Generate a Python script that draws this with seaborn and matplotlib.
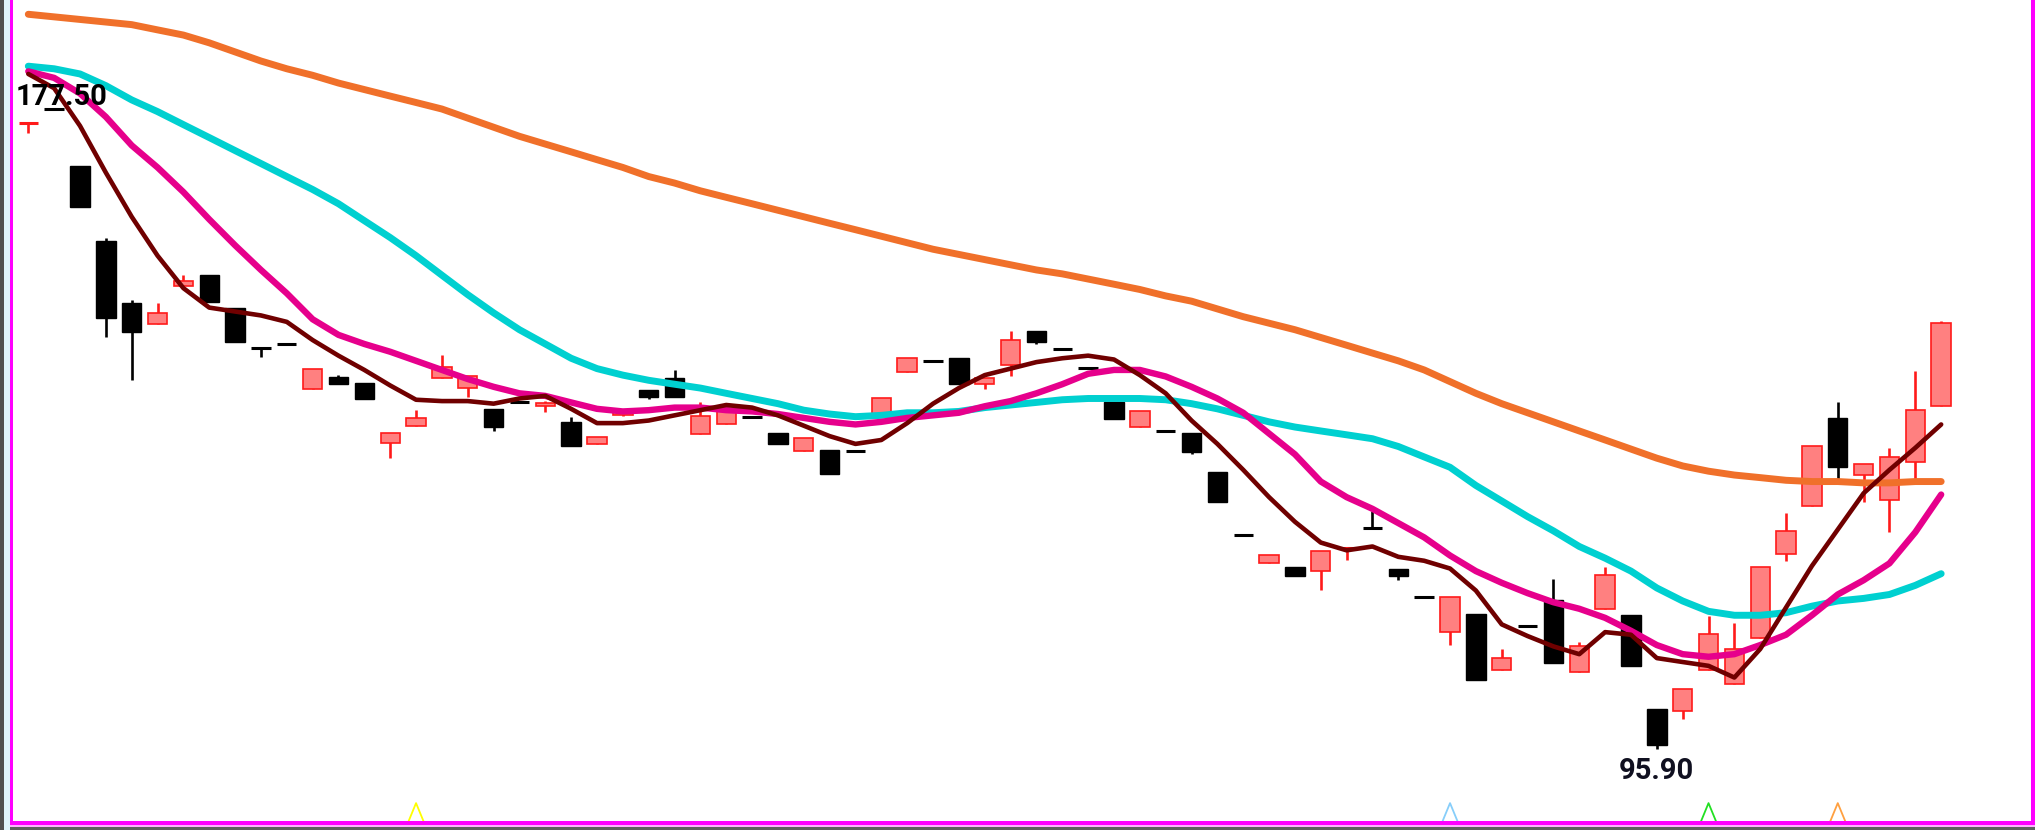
import numpy as np
import pandas as pd
import matplotlib
matplotlib.use("Agg")
import matplotlib.pyplot as plt
from matplotlib.patches import Rectangle
import seaborn as sns

sns.set_style("white")
plt.rcParams['font.family'] = ['Roboto', 'DejaVu Sans']

# candle data (price units), one entry per trading day
opens = [175.6, 177.5, 170.2, 160.7, 152.8, 150.1, 154.9, 156.3, 152.1, 147.0,
         147.55, 141.8, 143.3, 142.6, 134.9, 137.1, 143.2, 141.9, 139.2, 140.2,
         139.6, 137.6, 134.8, 138.5, 141.7, 143.2, 136.1, 137.4, 138.2, 136.2,
         133.9, 134.0, 133.95, 138.5, 144.0, 145.4, 145.8, 142.5, 144.9, 149.2,
         146.9, 144.45, 140.1, 137.0, 136.5, 136.2, 131.2, 123.15, 119.6, 119.15,
         118.6, 121.4, 124.1, 118.8, 115.3, 110.8, 113.1, 106.0, 111.6, 114.9,
         105.7, 113.8, 113.0, 101.0, 100.7, 106.0, 104.2, 110.0, 120.7, 126.9,
         138.1, 130.8, 127.7, 132.5, 139.6]
highs = [175.7, 177.5, 170.2, 161.0, 153.1, 152.8, 156.3, 156.3, 152.1, 147.0,
         147.55, 144.4, 143.6, 142.6, 136.2, 139.1, 146.1, 143.5, 139.2, 140.2,
         140.3, 138.2, 135.7, 139.2, 141.7, 144.2, 140.1, 139.1, 138.2, 136.2,
         135.6, 134.0, 133.95, 140.7, 145.7, 145.4, 145.8, 143.2, 149.2, 149.2,
         146.9, 144.45, 140.1, 139.0, 136.5, 136.2, 131.2, 123.15, 120.6, 119.15,
         121.1, 121.5, 126.2, 118.8, 115.3, 115.3, 113.1, 108.7, 111.6, 117.6,
         109.5, 119.1, 113.0, 101.0, 103.5, 112.8, 112.0, 119.1, 126.0, 134.5,
         140.1, 132.2, 134.3, 144.1, 150.5]
lows = [174.5, 177.45, 165.0, 148.4, 143.0, 150.1, 154.9, 152.9, 147.8, 145.9,
        147.5, 141.8, 142.4, 140.5, 133.0, 137.1, 143.2, 140.8, 136.4, 140.15,
        138.9, 134.5, 134.8, 138.3, 140.5, 140.8, 136.1, 137.4, 138.15, 134.8,
        133.9, 131.0, 133.9, 138.5, 144.0, 145.35, 142.4, 141.8, 143.4, 147.5,
        146.85, 144.4, 138.0, 137.0, 136.45, 133.5, 127.4, 123.1, 119.6, 118.0,
        116.2, 120.0, 124.05, 117.4, 115.25, 109.1, 104.7, 106.0, 111.55, 106.8,
        105.7, 113.8, 106.5, 95.9, 99.7, 106.0, 104.2, 110.0, 119.9, 126.9,
        130.2, 127.4, 123.6, 130.2, 139.6]
closes = [175.7, 177.45, 165.0, 150.9, 149.1, 151.5, 155.6, 152.9, 147.8, 146.95,
          147.5, 144.4, 142.4, 140.5, 136.2, 138.1, 144.6, 143.5, 137.0, 140.15,
          140.0, 134.5, 135.7, 139.0, 140.8, 140.8, 138.3, 139.1, 138.15, 134.8,
          135.6, 131.0, 133.9, 140.7, 145.7, 145.35, 142.4, 143.2, 148.0, 147.8,
          146.85, 144.4, 138.0, 139.0, 136.45, 133.8, 127.4, 123.1, 120.6, 118.0,
          121.1, 121.5, 124.05, 118.0, 115.25, 115.3, 104.7, 107.5, 111.55, 106.8,
          109.0, 118.1, 106.5, 96.4, 103.5, 110.5, 108.7, 119.1, 123.7, 134.5,
          131.8, 132.2, 133.1, 139.1, 150.2]

# moving averages
ma_short = [181.97, 180.15, 175.35, 169.39, 163.76, 158.80, 154.66, 152.18, 151.68, 151.18,
            150.36, 148.04, 146.05, 144.23, 142.25, 140.43, 140.26, 140.26, 139.93, 140.59,
            140.92, 139.27, 137.45, 137.45, 137.78, 138.44, 139.10, 139.76, 139.43, 138.44,
            137.12, 135.79, 134.80, 135.30, 137.45, 139.93, 141.92, 143.57, 144.40, 145.23,
            145.72, 146.05, 145.56, 143.57, 141.25, 137.78, 134.80, 131.49, 128.01, 124.87,
            122.22, 121.23, 121.72, 120.40, 119.90, 118.91, 116.10, 111.79, 110.30, 108.98,
            107.99, 110.80, 110.47, 107.49, 106.99, 106.50, 105.01, 108.65, 113.95, 119.24,
            123.88, 128.51, 131.49, 134.30, 137.28]
ma_mid = [182.30, 181.47, 179.48, 176.50, 172.86, 170.05, 166.91, 163.43, 160.12, 156.98,
          154.00, 150.69, 148.70, 147.54, 146.55, 145.39, 144.23, 143.07, 142.08, 141.25,
          140.92, 140.09, 139.27, 138.94, 139.10, 139.43, 139.43, 139.10, 138.94, 138.61,
          138.11, 137.61, 137.28, 137.61, 138.11, 138.44, 138.77, 139.60, 140.26, 141.25,
          142.41, 143.74, 144.23, 144.23, 143.40, 142.08, 140.59, 138.77, 136.12, 133.47,
          130.00, 128.01, 126.52, 124.70, 122.88, 120.57, 118.58, 117.09, 115.77, 114.61,
          113.78, 112.62, 110.97, 109.15, 107.99, 107.66, 107.99, 109.15, 110.47, 112.95,
          115.60, 117.42, 119.57, 123.54, 128.34]
ma_long = [182.96, 182.63, 181.97, 180.48, 178.66, 177.17, 175.51, 173.86, 172.20, 170.55,
           168.89, 167.24, 165.42, 163.26, 161.11, 158.80, 156.31, 153.83, 151.51, 149.36,
           147.54, 145.72, 144.40, 143.57, 142.91, 142.41, 141.92, 141.25, 140.59, 139.93,
           139.10, 138.61, 138.27, 138.44, 138.77, 138.77, 138.94, 139.43, 139.76, 140.09,
           140.43, 140.59, 140.59, 140.59, 140.43, 139.93, 139.27, 138.44, 137.61, 136.95,
           136.45, 135.96, 135.46, 134.47, 133.14, 131.82, 129.50, 127.52, 125.53, 123.71,
           121.72, 120.23, 118.58, 116.43, 114.77, 113.45, 112.95, 112.95, 113.28, 114.11,
           114.77, 115.10, 115.60, 116.76, 118.25]
ma_year = [189.58, 189.25, 188.92, 188.59, 188.26, 187.59, 186.93, 185.94, 184.78, 183.62,
           182.63, 181.80, 180.81, 179.98, 179.15, 178.33, 177.50, 176.34, 175.18, 174.02,
           173.03, 172.04, 171.04, 170.05, 168.89, 168.06, 167.07, 166.24, 165.42, 164.59,
           163.76, 162.93, 162.11, 161.28, 160.45, 159.62, 158.96, 158.30, 157.64, 156.98,
           156.48, 155.82, 155.16, 154.49, 153.67, 153.00, 152.01, 151.02, 150.19, 149.36,
           148.37, 147.38, 146.38, 145.39, 144.23, 142.74, 141.25, 139.93, 138.77, 137.61,
           136.45, 135.30, 134.14, 132.98, 131.99, 131.32, 130.83, 130.50, 130.16, 130.00,
           130.00, 129.83, 129.83, 130.00, 130.00]

# signal markers along the bottom
signal_days = [15, 55, 65, 70]
signal_colors = ['#ffff00', '#87cefa', '#22e022', '#ffa040']

df = pd.DataFrame({'open': opens, 'high': highs, 'low': lows, 'close': closes,
                   'ma_short': ma_short, 'ma_mid': ma_mid,
                   'ma_long': ma_long, 'ma_year': ma_year})
df['day'] = np.arange(len(df))

W, H = 2035, 830
fig = plt.figure(figsize=(W / 100, H / 100), dpi=100)
fig.patch.set_facecolor('white')
ax = fig.add_axes([0, 0, 1, 1])

body_w = 0.75
up_face, up_edge = '#ff8080', '#ff1a1a'
for _, r in df.iterrows():
    up = r['close'] >= r['open']
    col = up_edge if up else 'black'
    ax.vlines(r['day'], r['low'], r['high'], color=col, lw=1.9, zorder=2)
    lo, hi = min(r['open'], r['close']), max(r['open'], r['close'])
    if hi - lo < 0.2:
        ax.hlines(hi, r['day'] - body_w / 2, r['day'] + body_w / 2,
                  color=col, lw=2.2, zorder=3)
    elif up:
        ax.add_patch(Rectangle((r['day'] - body_w / 2, lo), body_w, hi - lo,
                               facecolor=up_face, edgecolor=up_edge, lw=1.2, zorder=3))
    else:
        ax.add_patch(Rectangle((r['day'] - body_w / 2, lo), body_w, hi - lo,
                               facecolor='black', edgecolor='black', lw=1.0, zorder=3))

sns.lineplot(data=df, x='day', y='ma_year', color='#f0702a', lw=5.0, ax=ax, zorder=4)
sns.lineplot(data=df, x='day', y='ma_long', color='#00d0d0', lw=5.0, ax=ax, zorder=4)
sns.lineplot(data=df, x='day', y='ma_mid', color='#e6008c', lw=4.6, ax=ax, zorder=5)
sns.lineplot(data=df, x='day', y='ma_short', color='#700000', lw=3.3, ax=ax, zorder=6)
ax.set_xlim(-1.095, 77.63)
ax.set_ylim(85.57, 191.40)
ax.axis('off')

# high / low annotations
hi_day = int(np.argmax(highs))
lo_day = int(np.argmin(lows))
ax.text(hi_day - 1.49, max(highs) + 0.5, f"{max(highs):.2f}", ha='left', va='baseline',
        fontsize=21, fontweight='bold', color='black', zorder=7)
ax.text(lo_day, min(lows) - 1.0, f"{min(lows):.2f}", ha='center', va='top',
        fontsize=21, fontweight='bold', color='#101020', zorder=7)

# hollow triangles for signals
for d, c in zip(signal_days, signal_colors):
    ax.plot([d - 0.3, d, d + 0.3], [86.6, 89.0, 86.6], color=c, lw=1.3, zorder=7)

# window frame
def px(x0, y0, w, h, color):
    fig.add_artist(Rectangle((x0 / W, 1 - (y0 + h) / H), w / W, h / H,
                             transform=fig.transFigure, facecolor=color,
                             edgecolor='none', zorder=10))

px(0, 0, 4, H, '#505050')
px(4, 0, 6, H, '#dff4fb')
px(10, 0, 3, 823, '#ff00ff')
px(10, 821, W - 10, 4, '#ff00ff')
px(10, 825, W - 10, 2, '#ffb0ff')
px(10, 827, W - 10, 3, '#606060')
px(2031, 0, 4, 825, '#ff00ff')

fig.savefig('out.png', dpi=100, facecolor='white')
